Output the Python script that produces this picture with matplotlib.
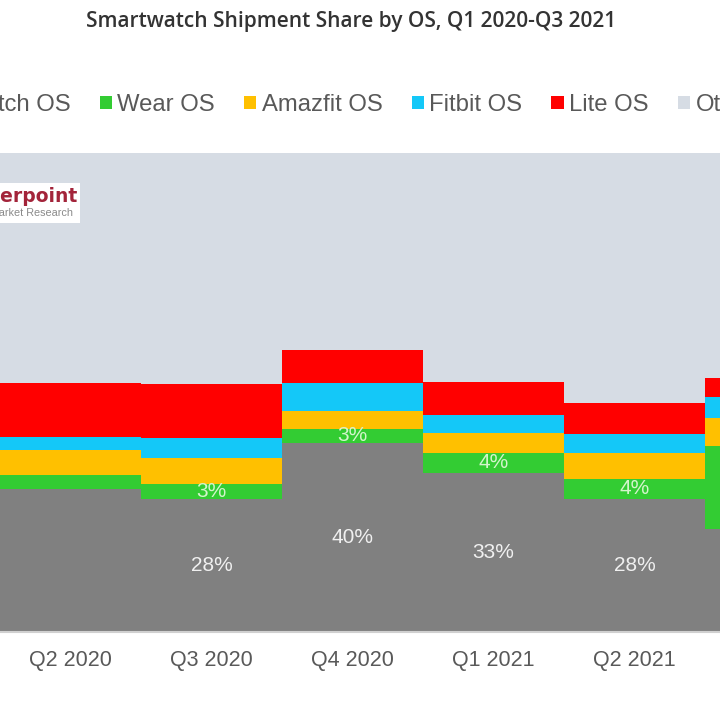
import numpy as np
import matplotlib
matplotlib.use("Agg")
import matplotlib.pyplot as plt
from matplotlib.patches import Patch, Rectangle

# quarters visible in the cropped chart
quarters = ["Q2 2020", "Q3 2020", "Q4 2020", "Q1 2021", "Q2 2021", "Q3 2021"]

# shipment share (%)
watch_os = [29.9, 27.8, 39.5, 33.2, 27.8, 21.5]
wear_os = [2.9, 3.1, 2.9, 4.2, 4.2, 17.3]
amazfit_os = [5.2, 5.4, 3.8, 4.2, 5.4, 5.8]
fitbit_os = [2.7, 4.2, 5.8, 3.8, 4.0, 4.4]
lite_os = [11.3, 11.3, 6.9, 6.7, 6.5, 4.0]

watch_labels = ["", "28%", "40%", "33%", "28%", ""]
wear_labels = ["", "3%", "3%", "4%", "4%", ""]

series_names = ["Watch OS", "Wear OS", "Amazfit OS", "Fitbit OS", "Lite OS", "Others"]
colors = ["#808080", "#33cc33", "#ffc000", "#14c8f8", "#ff0000", "#d6dce4"]

plt.rcParams["font.family"] = ["Liberation Sans", "DejaVu Sans"]

stack = np.array([watch_os, wear_os, amazfit_os, fitbit_os, lite_os])
others = 100 - stack.sum(axis=0)
stack = np.vstack([stack, others])

fig = plt.figure(figsize=(7.2, 7.2), dpi=100)
ax = fig.add_axes([0, 1 - 632 / 720, 1, (632 - 153) / 720])

x = np.arange(len(quarters))
bottom = np.zeros(len(quarters))
for vals, col in zip(stack, colors):
    ax.bar(x, vals, width=1.0, bottom=bottom, color=col, linewidth=0)
    bottom += vals

# value labels
for i in range(len(quarters)):
    if watch_labels[i]:
        ax.text(x[i], watch_os[i] / 2, watch_labels[i], ha="center", va="center",
                color="#f0f0f0", fontsize=15)
    if wear_labels[i]:
        ax.text(x[i], watch_os[i] + wear_os[i] / 2, wear_labels[i], ha="center",
                va="center", color="#d4f5cc", fontsize=15)

ax.set_xticks(x)
ax.set_xticklabels(quarters, fontsize=15.5, color="#595959")
# the chart is cropped: Q3 2021 only shows a thin slice on the right
ax.set_xlim(-0.5, -0.5 + 720 / 141)
ax.set_ylim(0, 100)
ax.tick_params(axis="x", length=0, pad=13)
ax.set_yticks([])
for s in ["left", "right", "top"]:
    ax.spines[s].set_visible(False)
ax.spines["bottom"].set_color("#d0d0d0")
ax.spines["bottom"].set_linewidth(1.5)

# logo box (cropped on the left)
fig.patches.append(Rectangle((0, 1 - 223 / 720), 80 / 720, 40 / 720,
                             transform=fig.transFigure, facecolor="white",
                             edgecolor="none", zorder=5))
fig.text(77 / 720, 1 - 196 / 720, "Counterpoint", ha="right", va="center",
         fontsize=13.5, fontweight="bold", color="#a3243a",
         family="DejaVu Sans", zorder=6)
fig.text(73 / 720, 1 - 213 / 720, "Technology Market Research", ha="right",
         va="center", fontsize=7.8, color="#8a8a8a", zorder=6)

# title
fig.text(351 / 720, 1 - 21 / 720, "Smartwatch Shipment Share by OS, Q1 2020-Q3 2021",
         ha="center", va="center", fontsize=15, fontweight="semibold",
         color="#333333", family=["Open Sans", "DejaVu Sans"])

# legend (wider than the figure, cut at both sides)
handles = [Patch(facecolor=c, edgecolor="none") for c in colors]
fig.legend(handles, series_names, loc="center", bbox_to_anchor=(356 / 720, 1 - 105 / 720),
           ncol=6, frameon=False, fontsize=17.2, labelcolor="#595959",
           handlelength=0.52, handleheight=0.52, handletextpad=0.22,
           columnspacing=1.22, borderpad=0, borderaxespad=0)

fig.savefig("out.png", dpi=100)
